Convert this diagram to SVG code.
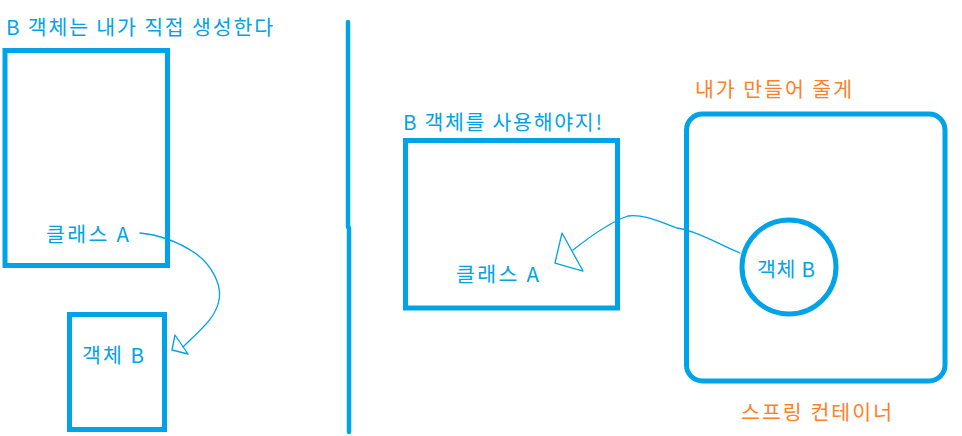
<svg xmlns="http://www.w3.org/2000/svg" width="962" height="436" viewBox="0 0 962 436">
<style>
.box{fill:none;stroke:#00a2e8;stroke-width:5}
.ln{fill:none;stroke:#00a2e8;stroke-width:1.3;stroke-linejoin:round;stroke-linecap:round}
.t{font-family:"Malgun Gothic","Noto Sans CJK KR",sans-serif;font-size:20.5px;fill:#00a2e8}
.o{fill:#ff7f27}
</style>
<rect width="962" height="436" fill="#fff"/>
<g id="title-left"><text class="t" x="6" y="35" textLength="267">B 객체는 내가 직접 생성한다</text></g>
<g id="divider"><path d="M348 22V227M349 228V432" stroke="#00a2e8" stroke-width="4.5" fill="none" stroke-linecap="round"/></g>
<g id="classA-left"><rect class="box" x="5" y="50.5" width="162.5" height="215"/><text class="t" x="46" y="242" textLength="83">클래스 A</text></g>
<g id="objB-left"><rect class="box" x="69.5" y="314.5" width="95" height="115"/><text class="t" x="82" y="363" textLength="62">객체 B</text></g>
<g id="title-mid"><text class="t" x="403" y="130" textLength="199">B 객체를 사용해야지!</text></g>
<g id="classA-right"><rect class="box" x="405.5" y="140.5" width="212" height="167.5"/><text class="t" x="456" y="282" textLength="83">클래스 A</text></g>
<g id="container"><rect class="box" x="686.5" y="114" width="258.5" height="267" rx="16"/>
<text class="t o" x="695" y="97" textLength="157">내가 만들어 줄게</text>
<text class="t o" x="741" y="420" textLength="151">스프링 컨테이너</text></g>
<g id="objB-right"><circle class="box" cx="789" cy="267" r="47"/><text class="t" x="757" y="277" textLength="58">객체 B</text></g>
<g id="connectors">
<path class="ln" d="M140 233 C160 235 180 243 195 253 C212 265 222 285 219 300 C216 318 200 330 183 347"/>
<path class="ln" d="M175 335 L172 350 L188 354 Z"/>
<path class="ln" d="M740 253 C720 245 700 232 677 228 C660 222 645 214 628 216 C610 222 592 235 573 250"/>
<path class="ln" d="M562 233 L555 263 L583 271 Z"/>
</g>
</svg>
